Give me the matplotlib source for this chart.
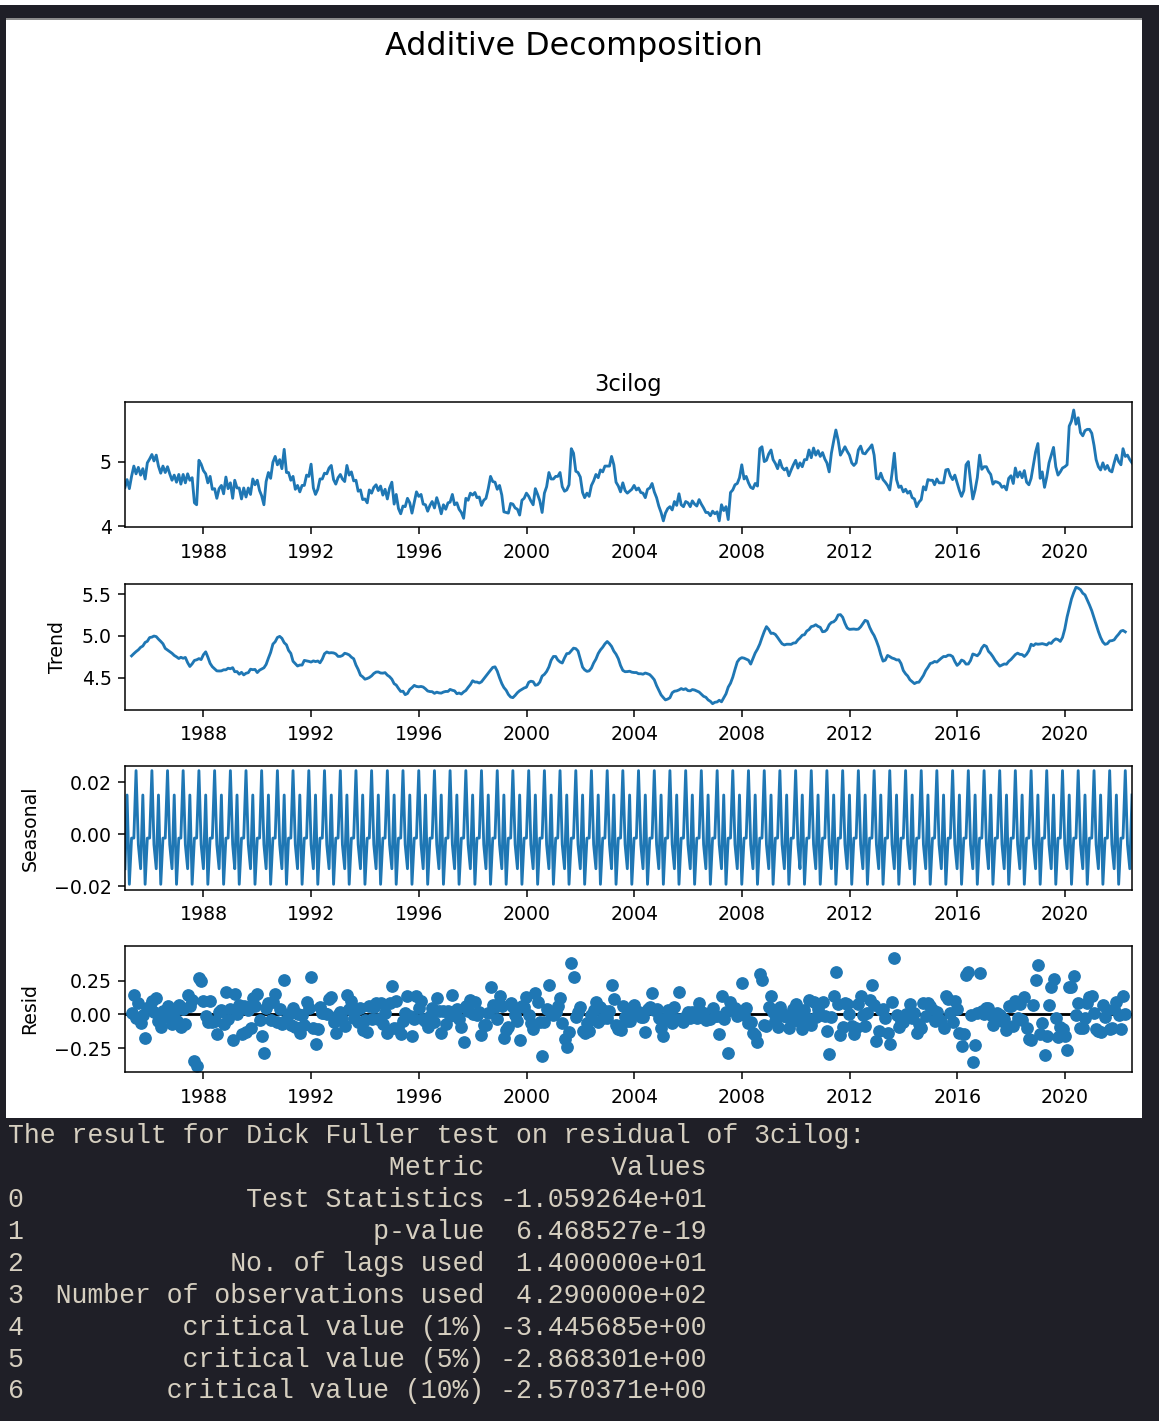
import numpy as np
import pandas as pd
import matplotlib
matplotlib.use("Agg")
import matplotlib.pyplot as plt
import matplotlib.dates as mdates
from matplotlib.patches import Rectangle

# ---------------- data (monthly, month-end, Jan 1985 .. Jun 2022) ----------------
observed = [
    4.60, 4.72, 4.58, 4.77, 4.93, 4.81, 4.91, 4.79, 4.89, 4.73, 4.98, 5.04,  # 1985
    5.11, 5.01, 5.10, 4.93, 4.82, 4.93, 4.83, 4.92, 4.81, 4.71, 4.79, 4.68,  # 1986
    4.80, 4.65, 4.80, 4.67, 4.81, 4.71, 4.75, 4.36, 4.33, 5.02, 4.96, 4.86,  # 1987
    4.81, 4.67, 4.77, 4.57, 4.58, 4.43, 4.58, 4.63, 4.50, 4.76, 4.58, 4.67,  # 1988
    4.43, 4.71, 4.59, 4.59, 4.42, 4.59, 4.45, 4.59, 4.49, 4.73, 4.64, 4.71,  # 1989
    4.55, 4.47, 4.33, 4.69, 4.83, 4.74, 4.99, 5.08, 4.95, 5.03, 4.89, 5.19,  # 1990
    4.83, 4.83, 4.71, 4.77, 4.57, 4.63, 4.53, 4.63, 4.63, 4.79, 4.77, 4.96,  # 1991
    4.59, 4.49, 4.57, 4.73, 4.73, 4.82, 4.81, 4.90, 4.94, 4.72, 4.65, 4.75,  # 1992
    4.80, 4.73, 4.69, 4.94, 4.79, 4.84, 4.70, 4.71, 4.54, 4.56, 4.41, 4.42,  # 1993
    4.36, 4.56, 4.51, 4.60, 4.64, 4.55, 4.62, 4.48, 4.57, 4.42, 4.59, 4.68,  # 1994
    4.34, 4.49, 4.27, 4.19, 4.31, 4.30, 4.43, 4.36, 4.20, 4.37, 4.53, 4.46,  # 1995
    4.49, 4.34, 4.33, 4.23, 4.32, 4.38, 4.28, 4.44, 4.33, 4.19, 4.33, 4.26,  # 1996
    4.36, 4.37, 4.49, 4.33, 4.36, 4.26, 4.21, 4.12, 4.43, 4.40, 4.51, 4.48,  # 1997
    4.52, 4.44, 4.45, 4.32, 4.40, 4.43, 4.58, 4.77, 4.69, 4.68, 4.57, 4.63,  # 1998
    4.48, 4.22, 4.21, 4.20, 4.35, 4.34, 4.28, 4.26, 4.17, 4.40, 4.43, 4.51,  # 1999
    4.46, 4.39, 4.33, 4.58, 4.49, 4.39, 4.21, 4.51, 4.61, 4.83, 4.73, 4.73,  # 2000
    4.77, 4.77, 4.83, 4.61, 4.54, 4.56, 4.64, 5.20, 5.13, 4.85, 4.83, 4.76,  # 2001
    4.52, 4.44, 4.51, 4.46, 4.63, 4.70, 4.80, 4.75, 4.87, 4.84, 4.93, 4.93,  # 2002
    4.93, 5.08, 4.95, 4.68, 4.62, 4.53, 4.67, 4.55, 4.51, 4.54, 4.57, 4.63,  # 2003
    4.56, 4.59, 4.52, 4.51, 4.44, 4.57, 4.59, 4.66, 4.53, 4.44, 4.31, 4.21,  # 2004
    4.08, 4.20, 4.27, 4.30, 4.25, 4.38, 4.32, 4.50, 4.33, 4.30, 4.38, 4.36,  # 2005
    4.30, 4.39, 4.34, 4.31, 4.41, 4.34, 4.28, 4.21, 4.21, 4.16, 4.23, 4.19,  # 2006
    4.22, 4.08, 4.33, 4.24, 4.30, 4.10, 4.52, 4.56, 4.64, 4.66, 4.75, 4.95,  # 2007
    4.73, 4.77, 4.67, 4.60, 4.58, 4.66, 4.62, 5.20, 5.23, 5.00, 5.02, 5.12,  # 2008
    5.18, 5.03, 4.97, 4.89, 5.02, 4.91, 4.87, 4.90, 4.78, 4.87, 4.95, 5.02,  # 2009
    4.90, 4.98, 4.92, 5.03, 5.03, 5.18, 5.06, 5.21, 5.10, 5.17, 5.08, 5.14,  # 2010
    5.04, 4.98, 4.84, 5.13, 5.32, 5.49, 5.33, 5.10, 5.16, 5.23, 5.16, 5.10,  # 2011
    4.98, 4.94, 4.98, 5.18, 5.24, 5.13, 5.12, 5.17, 5.21, 5.26, 5.10, 4.74,  # 2012
    4.73, 4.82, 4.72, 4.68, 4.63, 4.56, 4.82, 5.13, 4.72, 4.60, 4.62, 4.53,  # 2013
    4.57, 4.51, 4.54, 4.44, 4.42, 4.30, 4.37, 4.41, 4.61, 4.56, 4.72, 4.71,  # 2014
    4.71, 4.64, 4.73, 4.67, 4.67, 4.67, 4.87, 4.88, 4.78, 4.72, 4.79, 4.67,  # 2015
    4.55, 4.46, 4.55, 4.95, 5.00, 4.70, 4.42, 4.56, 4.75, 5.10, 4.88, 4.92,  # 2016
    4.92, 4.85, 4.80, 4.65, 4.69, 4.68, 4.66, 4.60, 4.62, 4.56, 4.74, 4.78,  # 2017
    4.66, 4.90, 4.76, 4.84, 4.75, 4.86, 4.68, 4.64, 4.74, 4.95, 5.15, 5.28,  # 2018
    4.74, 4.84, 4.60, 4.76, 4.98, 5.10, 5.22, 4.92, 4.79, 4.84, 4.90, 4.92,  # 2019
    4.95, 5.55, 5.63, 5.80, 5.58, 5.68, 5.45, 5.40, 5.48, 5.50, 5.50, 5.44,  # 2020
    5.25, 5.03, 4.92, 4.87, 4.98, 4.88, 4.94, 4.86, 4.84, 4.98, 5.10, 5.00,  # 2021
    4.95, 5.20, 5.08, 5.10, 5.03, 4.98,                                      # 2022
]
start_month = "1985-01-01"
period = 7
# one seasonal cycle (7 values) as estimated from the Seasonal panel
seasonal_cycle = [-0.0133, 0.0151, -0.0193, -0.0015, -0.0015, 0.0245, -0.0040]

series_title = "3cilog"
suptitle = "Additive Decomposition"
panel_labels = ["", "Trend", "Seasonal", "Resid"]
yticks_obs = [4, 5]
yticks_trend = [4.5, 5.0, 5.5]
yticks_seas = [-0.02, 0.00, 0.02]
yticks_resid = [-0.25, 0.00, 0.25]

adf_header = "The result for Dick Fuller test on residual of 3cilog:"
adf_metrics = ["Test Statistics", "p-value", "No. of lags used",
               "Number of observations used", "critical value (1%)",
               "critical value (5%)", "critical value (10%)"]
adf_values = [-10.59264, 6.468527e-19, 14.0, 429.0, -3.445685, -2.868301, -2.570371]

# ---------------- additive decomposition (moving-average method) ----------------
dates = pd.date_range(start_month, periods=len(observed) + 1, freq="MS")[1:] - pd.Timedelta(days=1)
obs = pd.Series(observed, index=dates)
trend = obs.rolling(period, center=True).mean()
seasonal = pd.Series(np.resize(seasonal_cycle, len(obs)), index=dates)
resid = obs - trend - seasonal

# ---------------- figure ----------------
W, H = 1159, 1421
S = 1.36
DARK = "#1f1f27"
plt.rcParams.update({
    "font.family": ["DejaVu Sans"],
    "font.size": 10 * S,
    "axes.titlesize": 12 * S,
    "axes.titlepad": 6 * S,
    "axes.labelpad": 4 * S + 5,
    "axes.linewidth": 0.8 * S,
    "lines.linewidth": 1.5 * S,
    "lines.markersize": 6 * S,
    "xtick.major.size": 3.5 * S, "ytick.major.size": 3.5 * S,
    "xtick.major.width": 0.8 * S, "ytick.major.width": 0.8 * S,
    "xtick.major.pad": 3.5 * S + 1.5, "ytick.major.pad": 3.5 * S,
})

fig = plt.figure(figsize=(W / 100, H / 100), dpi=100, facecolor=DARK)
# notebook frame: white strip on top, figure canvas, thin grey rule
fig.patches.append(Rectangle((0, 1 - 5 / H), 1, 5 / H, transform=fig.transFigure,
                             facecolor="white", edgecolor="none", zorder=-5))
fig.patches.append(Rectangle((6 / W, 1 - 1118 / H), (1142 - 6) / W, (1118 - 19) / H,
                             transform=fig.transFigure, facecolor="white",
                             edgecolor="none", zorder=-5))
fig.patches.append(Rectangle((6 / W, 1 - 19.5 / H), (1142 - 6) / W, 1.5 / H,
                             transform=fig.transFigure, facecolor="#8c8c8c",
                             edgecolor="none", zorder=-4))

fig.text(574 / W, 1 - 46 / H, suptitle, ha="center", va="center", fontsize=16.8 * S)


def add_ax(top_px, bot_px):
    return fig.add_axes([125 / W, 1 - bot_px / H, 1007 / W, (bot_px - top_px) / H])


ax1 = add_ax(402.3, 527.3)
ax2 = add_ax(584.3, 710.0)
ax3 = add_ax(765.7, 890.0)
ax4 = add_ax(945.7, 1072.3)

ax1.plot(obs.index, obs.values)
ax1.set_title(series_title)
ax1.set_yticks(yticks_obs)
ax1.set_ylim(3.98, 5.92)

ax2.plot(trend.index, trend.values)
ax2.set_ylabel(panel_labels[1])
ax2.set_yticks(yticks_trend)
ax2.set_ylim(4.11, 5.62)

ax3.plot(seasonal.index, seasonal.values)
ax3.set_ylabel(panel_labels[2])
ax3.set_yticks(yticks_seas)
ax3.set_ylim(-0.0215, 0.0264)

ax4.plot(resid.index, resid.values, marker="o", linestyle="none")
ax4.axhline(0, color="#000000", zorder=-3)
ax4.set_ylabel(panel_labels[3])
ax4.set_yticks(yticks_resid)
ax4.set_ylim(-0.426, 0.507)

for ax in (ax1, ax2, ax3, ax4):
    ax.set_xlim(dates[0], dates[-1])
    ax.xaxis.set_major_locator(mdates.YearLocator(4))
    ax.xaxis.set_major_formatter(mdates.DateFormatter("%Y"))

# ---------------- notebook text output ----------------
lines = [adf_header,
         " " + "  " + "Metric".rjust(27) + " " + "Values".rjust(13)]
for i, (m, v) in enumerate(zip(adf_metrics, adf_values)):
    lines.append(f"{i}" + "  " + m.rjust(27) + " " + f"{v:.6e}".rjust(13))

for k, ln in enumerate(lines):
    fig.text(8 / W, 1 - (1143.3 + 31.9 * k) / H, ln, ha="left", va="baseline",
             family=["Liberation Mono", "DejaVu Sans Mono"], fontsize=19.1,
             color="#d6cfc0")

fig.savefig("out.png", dpi=100, facecolor=DARK)
